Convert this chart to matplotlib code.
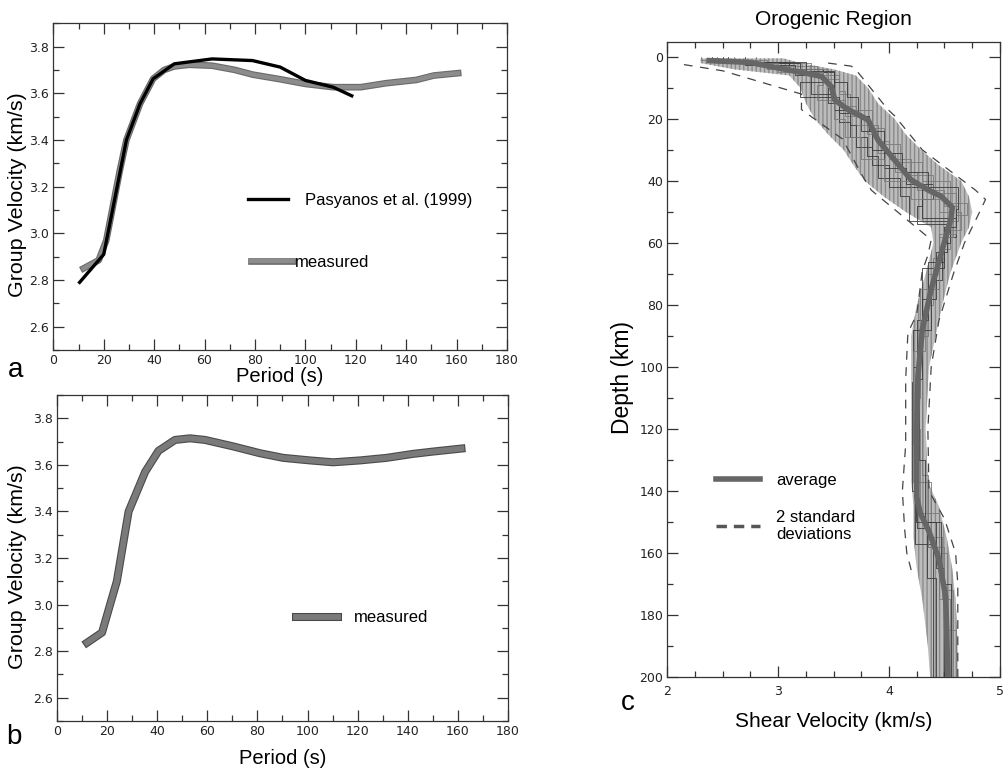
import matplotlib
matplotlib.use('Agg')
import matplotlib.pyplot as plt
import matplotlib.patheffects as pe
from matplotlib.lines import Line2D
from matplotlib.ticker import MultipleLocator

# panel a: Pasyanos et al. (1999) vs measured group velocity
period_a_ref = [10, 20, 29, 34.4, 39.6, 48, 63, 79, 90, 100, 111, 119]
vel_a_ref = [2.785, 2.91, 3.40, 3.555, 3.662, 3.726, 3.747, 3.74, 3.712, 3.655, 3.626, 3.586]
period_a_meas = [12, 18, 21, 26.4, 29, 34.4, 39.6, 44, 48, 54, 63, 72, 79, 90, 100, 111, 122, 132, 144, 151, 160.6]
vel_a_meas = [2.85, 2.885, 2.97, 3.27, 3.40, 3.555, 3.662, 3.70, 3.715, 3.722, 3.718, 3.70, 3.68, 3.66, 3.64,
              3.626, 3.626, 3.643, 3.657, 3.676, 3.686]

# panel b: measured group velocity
period_b = [12, 18, 21.2, 23.9, 28.6, 35.2, 40.5, 47.1, 53.1, 59.1, 70.4, 81, 90.3, 101, 110.2, 120.9, 131.5,
            142, 150, 161.4]
vel_b = [2.836, 2.88, 3.0, 3.10, 3.40, 3.57, 3.66, 3.707, 3.714, 3.707, 3.679, 3.65, 3.63, 3.619, 3.611, 3.619,
         3.63, 3.647, 3.657, 3.67]

# panel c: orogenic region shear velocity profile
avg_depth = [1.2, 1.8, 3.6, 5.2, 6.3, 9.6, 13.9, 17.0, 20.3, 26.8, 32.0, 39.7, 42.9, 45.0, 48.5, 52.0, 57.0,
             66.0, 75.0, 88.0, 103.0, 120.0, 142.0, 147.0, 153.0, 162.0, 174.0, 185.0, 200.0]
avg_vel = [2.38, 2.75, 3.00, 3.24, 3.39, 3.48, 3.51, 3.63, 3.81, 3.90, 4.02, 4.20, 4.35, 4.47, 4.57, 4.56, 4.52,
           4.45, 4.38, 4.30, 4.26, 4.25, 4.25, 4.28, 4.36, 4.45, 4.51, 4.52, 4.53]

env_depth = [0.5, 2, 4, 6, 10, 15, 20, 25, 30, 35, 40, 45, 50, 55, 60, 70, 80, 90, 100, 120, 137, 145, 155,
             165, 175, 190, 200]
env_lo = [2.3, 2.3, 2.6, 3.1, 3.2, 3.25, 3.33, 3.45, 3.59, 3.68, 3.78, 3.95, 4.15, 4.38, 4.4, 4.33, 4.25, 4.2,
          4.2, 4.2, 4.2, 4.22, 4.22, 4.25, 4.3, 4.35, 4.37]
env_hi = [3.05, 3.2, 3.5, 3.7, 3.81, 3.9, 4.05, 4.15, 4.29, 4.45, 4.65, 4.72, 4.75, 4.72, 4.65, 4.55, 4.48,
          4.42, 4.36, 4.33, 4.35, 4.45, 4.52, 4.57, 4.6, 4.62, 4.62]

std_lo_depth = [2.5, 4.5, 12, 17, 26.5, 39, 43, 59, 64, 69, 83, 89, 104, 125, 140, 152, 160, 167]
std_lo_vel = [2.15, 2.5, 3.21, 3.21, 3.58, 3.77, 3.84, 4.38, 4.35, 4.3, 4.25, 4.17, 4.15, 4.15, 4.12, 4.14,
              4.16, 4.21]
std_hi_depth = [2, 3, 5, 17, 19, 30, 43, 46, 52, 60, 70, 85, 100, 120, 140, 149, 160, 170, 200]
std_hi_vel = [3.45, 3.66, 3.72, 3.99, 4.05, 4.3, 4.78, 4.87, 4.79, 4.68, 4.58, 4.45, 4.38, 4.35, 4.36, 4.5,
              4.6, 4.62, 4.62]

# a few of the individual layered models (layer bottoms, layer velocities)
models = [
    ([2, 5, 9, 14, 19, 25, 31, 37, 43, 48, 53, 62, 75, 90, 110, 137, 155, 175, 200],
     [2.6, 3.3, 3.45, 3.5, 3.6, 3.8, 3.9, 4.05, 4.25, 4.5, 4.62, 4.55, 4.45, 4.35, 4.28, 4.25, 4.38, 4.48, 4.55]),
    ([1.5, 4, 8, 13, 18, 24, 30, 36, 41, 46, 52, 58, 68, 85, 100, 125, 150, 165, 200],
     [2.4, 3.1, 3.4, 3.2, 3.55, 3.75, 3.85, 3.95, 4.15, 4.4, 4.3, 4.6, 4.5, 4.3, 4.25, 4.22, 4.24, 4.42, 4.5]),
    ([3, 6, 11, 16, 22, 27, 33, 38, 44, 50, 56, 65, 80, 95, 115, 135, 158, 172, 200],
     [2.8, 3.35, 3.55, 3.6, 3.7, 3.9, 4.0, 4.2, 4.4, 4.6, 4.65, 4.5, 4.4, 4.32, 4.3, 4.3, 4.35, 4.5, 4.58]),
    ([2, 5, 10, 15, 21, 26, 32, 39, 45, 53, 60, 72, 88, 105, 140, 152, 168, 200],
     [2.5, 3.2, 3.5, 3.45, 3.55, 3.65, 3.8, 3.9, 4.1, 4.18, 4.55, 4.48, 4.38, 4.22, 4.21, 4.25, 4.34, 4.42]),
    ([1, 4, 7, 12, 17, 23, 28, 34, 40, 47, 51, 57, 70, 82, 98, 120, 147, 160, 185, 200],
     [2.3, 2.9, 3.45, 3.55, 3.65, 3.85, 3.95, 4.1, 4.3, 4.55, 4.7, 4.6, 4.45, 4.35, 4.3, 4.25, 4.28, 4.45, 4.52,
      4.6]),
    ([2.5, 6, 12, 17, 22, 29, 35, 42, 48, 54, 63, 78, 92, 112, 138, 157, 200],
     [2.7, 3.15, 3.3, 3.5, 3.65, 3.7, 3.85, 4.0, 4.3, 4.25, 4.52, 4.42, 4.3, 4.27, 4.24, 4.23, 4.4]),
    ([2, 5, 9, 14, 20, 26, 33, 40, 46, 50, 58, 75, 95, 137, 158, 175, 200],
     [2.45, 3.0, 3.4, 3.35, 3.5, 3.6, 3.75, 3.95, 4.2, 4.45, 4.58, 4.45, 4.28, 4.22, 4.35, 4.45, 4.52]),
    ([1.5, 4.5, 8, 13, 19, 24, 31, 37, 42, 49, 55, 66, 85, 104, 130, 150, 170, 200],
     [2.55, 3.25, 3.5, 3.62, 3.72, 3.82, 3.95, 4.12, 4.35, 4.62, 4.6, 4.5, 4.35, 4.3, 4.27, 4.32, 4.47, 4.56]),
]

TICK_FONT = ['Liberation Sans Narrow', 'DejaVu Sans']
EDGE = '#333333'


def style_axes(ax, xmajor, xminor, ymajor, yminor):
    ax.xaxis.set_major_locator(MultipleLocator(xmajor))
    ax.xaxis.set_minor_locator(MultipleLocator(xminor))
    ax.yaxis.set_major_locator(MultipleLocator(ymajor))
    ax.yaxis.set_minor_locator(MultipleLocator(yminor))
    ax.tick_params(which='both', direction='in', top=True, right=True, color=EDGE,
                   labelsize=9, labelcolor='#222222', pad=3)
    ax.tick_params(which='major', length=8, width=0.9)
    ax.tick_params(which='minor', length=4, width=0.9)
    for sp in ax.spines.values():
        sp.set_color(EDGE)
        sp.set_linewidth(0.9)


def gray_line(edge, lw):
    return [pe.Stroke(linewidth=lw + 1.6, foreground=edge), pe.Normal()]


def steps(bottoms, vels):
    d, v = [0.0], []
    for b, s in zip(bottoms, vels):
        d += [b, b]
        v += [s, s]
    return v, d[:-1]


def main() -> None:
    plt.rcParams['font.family'] = ['Liberation Sans', 'DejaVu Sans']
    fig = plt.figure(figsize=(10.08, 7.73), dpi=100)
    vel_ticks = [2.6, 2.8, 3.0, 3.2, 3.4, 3.6, 3.8]
    per_ticks = list(range(0, 181, 20))

    # ---- panel a
    ax_a = fig.add_axes([0.0529, 0.547, 0.4501, 0.423])
    ax_a.plot(period_a_ref, vel_a_ref, color='black', lw=2.4, solid_capstyle='butt', zorder=3)
    ax_a.plot(period_a_meas, vel_a_meas, color='#8c8c8c', lw=3.2, zorder=2,
              path_effects=gray_line('#6a6a6a', 3.2))
    ax_a.set_xlim(0, 180)
    ax_a.set_ylim(2.5, 3.9)
    style_axes(ax_a, 20, 10, 0.2, 0.1)
    ax_a.set_xticks(per_ticks)
    ax_a.set_yticks(vel_ticks)
    ax_a.set_xticklabels([str(v) for v in per_ticks], family=TICK_FONT)
    ax_a.set_yticklabels([f'{v:.1f}' for v in vel_ticks], family=TICK_FONT)
    ax_a.set_xlabel('Period (s)', fontsize=14.5, labelpad=0)
    ax_a.set_ylabel('Group Velocity (km/s)', fontsize=15.4)
    ax_a.yaxis.set_label_coords(-0.058, 0.477)

    h_ref = Line2D([], [], color='black', lw=2.4)
    h_meas = Line2D([], [], color='#8c8c8c', lw=3.2, path_effects=gray_line('#6a6a6a', 3.2))
    leg1 = ax_a.legend([h_ref], ['Pasyanos et al. (1999)'], loc='center left', bbox_to_anchor=(0.429, 0.459),
                       frameon=False, fontsize=12, handlelength=2.4, handletextpad=1.0, borderpad=0,
                       borderaxespad=0)
    ax_a.add_artist(leg1)
    ax_a.legend([h_meas], ['measured'], loc='center left', bbox_to_anchor=(0.436, 0.269),
                frameon=False, fontsize=12, handlelength=2.5, handletextpad=0.1, borderpad=0, borderaxespad=0)
    fig.text(0.008, 0.521, 'a', fontsize=20, va='center')

    # ---- panel b
    ax_b = fig.add_axes([0.0565, 0.0673, 0.4475, 0.4217])
    ax_b.plot(period_b, vel_b, color='#7a7a7a', lw=4.2, zorder=2,
              path_effects=gray_line('#4a4a4a', 4.2))
    ax_b.set_xlim(0, 180)
    ax_b.set_ylim(2.5, 3.9)
    style_axes(ax_b, 20, 10, 0.2, 0.1)
    ax_b.set_xticks(per_ticks)
    ax_b.set_yticks(vel_ticks)
    ax_b.set_xticklabels([str(v) for v in per_ticks], family=TICK_FONT)
    ax_b.set_yticklabels([f'{v:.1f}' for v in vel_ticks], family=TICK_FONT)
    ax_b.set_xlabel('Period (s)', fontsize=14.5, labelpad=8)
    ax_b.set_ylabel('Group Velocity (km/s)', fontsize=15.4)
    ax_b.yaxis.set_label_coords(-0.066, 0.475)
    h_b = Line2D([], [], color='#7a7a7a', lw=4.2, path_effects=gray_line('#4a4a4a', 4.2))
    ax_b.legend([h_b], ['measured'], loc='center left', bbox_to_anchor=(0.530, 0.316),
                frameon=False, fontsize=12, handlelength=2.5, handletextpad=1.0, borderpad=0, borderaxespad=0)
    fig.text(0.006, 0.047, 'b', fontsize=20, va='center')

    # ---- panel c
    ax_c = fig.add_axes([0.662, 0.1242, 0.330, 0.8215])
    ax_c.fill_betweenx(env_depth, env_lo, env_hi, color='#bcbcbc', edgecolor='#8a8a8a', hatch='||||',
                       lw=0, zorder=1)
    for i, (bottoms, vels) in enumerate(models):
        v, d = steps(bottoms, vels)
        ax_c.plot(v, d, color='#3a3a3a' if i % 2 else '#7a7a7a', lw=0.6, zorder=2)
    ax_c.plot(std_lo_vel, std_lo_depth, color='#444444', lw=0.9, ls=(0, (7, 6)), zorder=3)
    ax_c.plot(std_hi_vel, std_hi_depth, color='#444444', lw=0.9, ls=(0, (7, 6)), zorder=3)
    ax_c.plot(avg_vel, avg_depth, color='#666666', lw=4.0, zorder=4, solid_joinstyle='round')
    ax_c.set_xlim(2, 5)
    ax_c.set_ylim(200, -4.8)
    style_axes(ax_c, 1, 0.25, 20, 10)
    ax_c.tick_params(axis='x', pad=6)
    ax_c.set_xticks([2, 3, 4, 5])
    ax_c.set_yticks(range(0, 201, 20))
    ax_c.set_xticklabels(['2', '3', '4', '5'], family=TICK_FONT)
    ax_c.set_yticklabels([str(v) for v in range(0, 201, 20)], family=TICK_FONT)
    ax_c.set_xlabel('Shear Velocity (km/s)', fontsize=15, labelpad=10)
    ax_c.set_ylabel('Depth (km)', fontsize=16.5)
    ax_c.yaxis.set_label_coords(-0.099, 0.472)
    ax_c.set_title('Orogenic Region', fontsize=15, pad=12)

    h_avg = Line2D([], [], color='#666666', lw=4.0)
    h_std = Line2D([], [], color='#555555', lw=2.5, ls=(0, (3, 2)))
    ax_c.legend([h_avg, h_std], ['average', '2 standard\ndeviations'], loc='upper left',
                bbox_to_anchor=(0.147, 0.321), frameon=False, fontsize=12, handlelength=2.6,
                handletextpad=1.0, borderpad=0, borderaxespad=0, labelspacing=1.3)
    fig.text(0.616, 0.09, 'c', fontsize=20, va='center')

    fig.savefig('out.png', dpi=100)


if __name__ == '__main__':
    main()
